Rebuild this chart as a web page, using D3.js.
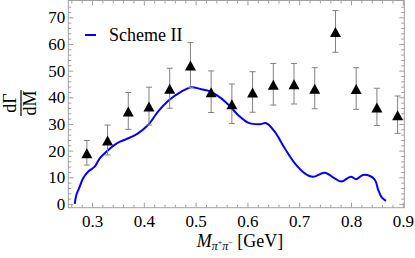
<!DOCTYPE html>
<html>
<head>
<meta charset="utf-8">
<script src="https://cdn.jsdelivr.net/npm/d3@7"></script>
<style>
  body { margin: 0; background: #fff; }
</style>
</head>
<body>
<figure id="plot" style="margin:0"></figure>
<script>
// Data points
const massPoints = [0.29, 0.33, 0.37, 0.41, 0.45, 0.49, 0.53, 0.57, 0.61, 0.65, 0.69, 0.73, 0.77, 0.81, 0.85, 0.89];
const rateValues = [19.2, 24.0, 34.9, 36.7, 43.4, 52.1, 42.1, 37.6, 42.0, 44.9, 45.1, 43.4, 64.7, 43.3, 36.4, 33.5];
const rateErrors = [4.6, 5.6, 6.9, 7.1, 7.5, 8.4, 7.8, 7.4, 7.6, 7.8, 7.6, 7.7, 7.8, 7.8, 7.0, 7.0];

// Scheme II curve
const curveMass = [0.2666, 0.2697, 0.2763, 0.2826, 0.2923, 0.3052, 0.3149, 0.3276, 0.3502, 0.3662, 0.3888, 0.4081,
  0.4274, 0.4467, 0.4724, 0.4917, 0.5110, 0.5239, 0.5400, 0.5593, 0.5819, 0.6012, 0.6237, 0.6365, 0.6527, 0.6720,
  0.6913, 0.7106, 0.7266, 0.7492, 0.7685, 0.7813, 0.7994, 0.8102, 0.8232, 0.8367, 0.8463, 0.8527, 0.8593, 0.8676];
const curveRate = [0.0, 3.4, 6.5, 9.6, 12.1, 14.0, 17.1, 19.6, 23.0, 24.3, 26.5, 29.6,
  34.6, 38.6, 42.1, 43.8, 43.0, 42.5, 40.9, 38.0, 33.4, 30.5, 29.9, 30.3, 27.1, 20.9,
  15.3, 11.5, 10.2, 11.7, 9.6, 8.4, 10.2, 9.3, 10.9, 10.5, 9.0, 5.2, 2.5, 1.2];

const xTicks = [0.3, 0.4, 0.5, 0.6, 0.7, 0.8, 0.9];
const yTicks = [0, 10, 20, 30, 40, 50, 60, 70];
const legendLabel = "Scheme II";

const width = 415, height = 258;
const plotLeft = 68.3, plotRight = 404.3, plotTop = 0.5, plotBottom = 207.7;
const frameColor = "#a0a0a0";
const serif = '"Liberation Serif", "Times New Roman", "DejaVu Serif", serif';

const svg = d3.select("figure#plot")
  .append("svg")
  .attr("width", width)
  .attr("height", height)
  .style("font-family", serif);

const x = d3.scaleLinear()
  .domain([0.2542, 0.9029])
  .range([plotLeft, plotRight]);

const y = d3.scaleLinear()
  .domain([-1.39, 76.3])
  .range([plotBottom, plotTop]);

const xMinor = d3.range(0.26, 0.901, 0.02).filter(v => !xTicks.some(t => Math.abs(t - v) < 1e-6));
const yMinor = d3.range(0, 76, 2).filter(v => v % 10 !== 0);

function styleAxis(g) {
  g.attr("font-family", null).attr("font-size", null);
  g.select(".domain").remove();
  g.selectAll("line").attr("stroke", frameColor);
  g.selectAll("text")
    .style("font-family", serif)
    .style("font-size", "17px")
    .attr("fill", "#000");
}

// Add X axis (bottom + top, ticks inside)
svg.append("g")
  .attr("transform", "translate(0," + plotBottom + ")")
  .call(d3.axisBottom(x).tickValues(xTicks).tickFormat(d3.format(".1f")).tickSizeInner(-5).tickSizeOuter(0).tickPadding(7))
  .call(styleAxis);
svg.append("g")
  .attr("transform", "translate(0," + plotBottom + ")")
  .call(d3.axisBottom(x).tickValues(xMinor).tickFormat("").tickSizeInner(-3).tickSizeOuter(0))
  .call(styleAxis);
svg.append("g")
  .attr("transform", "translate(0," + plotTop + ")")
  .call(d3.axisTop(x).tickValues(xTicks).tickFormat("").tickSizeInner(-5).tickSizeOuter(0))
  .call(styleAxis);
svg.append("g")
  .attr("transform", "translate(0," + plotTop + ")")
  .call(d3.axisTop(x).tickValues(xMinor).tickFormat("").tickSizeInner(-3).tickSizeOuter(0))
  .call(styleAxis);

// Add Y axis (left + right, ticks inside)
svg.append("g")
  .attr("transform", "translate(" + plotLeft + ",0)")
  .call(d3.axisLeft(y).tickValues(yTicks).tickSizeInner(-5).tickSizeOuter(0).tickPadding(3))
  .call(styleAxis);
svg.append("g")
  .attr("transform", "translate(" + plotLeft + ",0)")
  .call(d3.axisLeft(y).tickValues(yMinor).tickFormat("").tickSizeInner(-3).tickSizeOuter(0))
  .call(styleAxis);
svg.append("g")
  .attr("transform", "translate(" + plotRight + ",0)")
  .call(d3.axisRight(y).tickValues(yTicks).tickFormat("").tickSizeInner(-5).tickSizeOuter(0))
  .call(styleAxis);
svg.append("g")
  .attr("transform", "translate(" + plotRight + ",0)")
  .call(d3.axisRight(y).tickValues(yMinor).tickFormat("").tickSizeInner(-3).tickSizeOuter(0))
  .call(styleAxis);

// Frame
svg.append("rect")
  .attr("x", plotLeft).attr("y", plotTop)
  .attr("width", plotRight - plotLeft).attr("height", plotBottom - plotTop)
  .attr("fill", "none")
  .attr("stroke", frameColor)
  .attr("stroke-width", 1);

// Curve
const curveData = curveMass.map((m, i) => [m, curveRate[i]]);
svg.append("path")
  .datum(curveData)
  .attr("fill", "none")
  .attr("stroke", "#0000ff")
  .attr("stroke-width", 2)
  .attr("stroke-linejoin", "round")
  .attr("d", d3.line().x(d => x(d[0])).y(d => y(d[1])).curve(d3.curveCatmullRom));

// Error bars
const points = massPoints.map((m, i) => ({ m: m, v: rateValues[i], e: rateErrors[i] }));
const bars = svg.append("g").attr("stroke", "#808080").attr("stroke-width", 1);
bars.selectAll("line.bar")
  .data(points)
  .enter()
  .append("line")
  .attr("x1", d => x(d.m)).attr("x2", d => x(d.m))
  .attr("y1", d => y(d.v + d.e)).attr("y2", d => y(d.v - d.e));
bars.selectAll("line.capTop")
  .data(points)
  .enter()
  .append("line")
  .attr("x1", d => x(d.m) - 3).attr("x2", d => x(d.m) + 3)
  .attr("y1", d => y(d.v + d.e)).attr("y2", d => y(d.v + d.e));
bars.selectAll("line.capBottom")
  .data(points)
  .enter()
  .append("line")
  .attr("x1", d => x(d.m) - 3).attr("x2", d => x(d.m) + 3)
  .attr("y1", d => y(d.v - d.e)).attr("y2", d => y(d.v - d.e));

// Triangle markers
svg.append("g")
  .selectAll("path")
  .data(points)
  .enter()
  .append("path")
  .attr("d", d => {
    const cx = x(d.m), cy = y(d.v) + 1.5;
    return "M" + cx + "," + (cy - 6) + "L" + (cx + 5.5) + "," + (cy + 4) + "L" + (cx - 5.5) + "," + (cy + 4) + "Z";
  })
  .attr("fill", "#000");

// Legend
svg.append("line")
  .attr("x1", 85).attr("x2", 96).attr("y1", 35).attr("y2", 35)
  .attr("stroke", "#0000ff").attr("stroke-width", 2);
svg.append("text")
  .attr("x", 109).attr("y", 40.5)
  .style("font-size", "18px")
  .text(legendLabel);

// Y label dΓ/dM
const yl = svg.append("g").attr("transform", "translate(21,103) rotate(-90)");
yl.append("text").attr("x", 0).attr("y", -5).attr("text-anchor", "middle").style("font-size", "18px").text("dΓ");
yl.append("line").attr("x1", -13).attr("x2", 13).attr("y1", 0).attr("y2", 0).attr("stroke", "#000").attr("stroke-width", 1.2);
yl.append("text").attr("x", 0).attr("y", 15).attr("text-anchor", "middle").style("font-size", "18px").text("dM");

// X label
const xl = svg.append("text")
  .attr("x", 240).attr("y", 247)
  .attr("text-anchor", "middle")
  .style("font-size", "18px");
xl.append("tspan").style("font-style", "italic").text("M");
xl.append("tspan").style("font-style", "italic").style("font-size", "12px").attr("dy", 3).text("π");
xl.append("tspan").style("font-size", "8px").attr("dy", -5).text("+");
xl.append("tspan").style("font-style", "italic").style("font-size", "12px").attr("dy", 5).text("π");
xl.append("tspan").style("font-size", "8px").attr("dy", -5).text("−");
xl.append("tspan").attr("dy", 2).text(" [GeV]");
</script>
</body>
</html>
